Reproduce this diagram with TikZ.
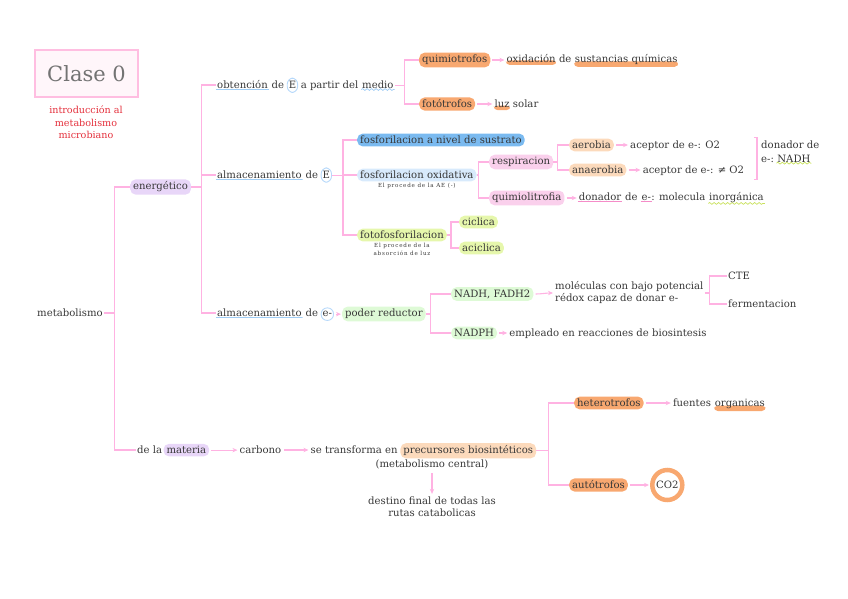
\documentclass[tikz,border=0pt]{standalone}
\usepackage{fontspec}
\setmainfont{DejaVu Serif}
\newfontfamily\notefont[LetterSpace=14]{DejaVu Serif}
\usetikzlibrary{positioning, arrows.meta, decorations.pathmorphing}
\definecolor{ink}{RGB}{55,55,55}
\definecolor{linkpink}{RGB}{255,178,226}
\definecolor{titlepink}{RGB}{255,190,225}
\definecolor{titlefill}{RGB}{255,246,250}
\definecolor{redtxt}{RGB}{228,48,60}
\definecolor{hlorange}{RGB}{248,168,112}
\definecolor{hlpeach}{RGB}{252,218,188}
\definecolor{hllav}{RGB}{232,214,248}
\definecolor{hlblue}{RGB}{122,186,240}
\definecolor{hlsky}{RGB}{216,234,252}
\definecolor{hlpink}{RGB}{250,208,236}
\definecolor{hllime}{RGB}{230,247,172}
\definecolor{hlmint}{RGB}{222,250,214}
\definecolor{ringblue}{RGB}{182,216,250}
\definecolor{ulblue}{RGB}{160,205,245}
\definecolor{ulpink}{RGB}{245,140,200}
\definecolor{ullime}{RGB}{200,225,90}

\begin{document}
\begin{tikzpicture}[
    x=1pt, y=1pt,
    font=\fontsize{10.1}{12}\selectfont, text=ink,
    >={Stealth[length=5pt, width=4.4pt]},
    word/.style={inner xsep=1pt, inner ysep=2pt},
    hl/.style={word, rounded corners=5.5pt, fill=#1, inner xsep=3pt, inner ysep=2.5pt},
    ulhl/.style={word, rounded corners=4pt,
                 path picture={\fill[#1] (path picture bounding box.south west)
                   rectangle ([yshift=-1.5pt]path picture bounding box.east);}},
    ul/.style={word,
               path picture={\draw[#1, line width=0.9pt]
                   ([yshift=1.2pt]path picture bounding box.south west) --
                   ([yshift=1.2pt]path picture bounding box.south east);}},
    wv/.style={word,
               path picture={\draw[#1, line width=0.7pt, decorate,
                   decoration={snake, amplitude=0.9pt, segment length=4.5pt}]
                   ([yshift=1.6pt]path picture bounding box.south west) --
                   ([yshift=1.6pt]path picture bounding box.south east);}},
    ring/.style={draw=ringblue, line width=0.9pt, rounded corners=6pt,
                 inner xsep=1.5pt, inner ysep=3.5pt},
    titlebox/.style={draw=titlepink, fill=titlefill, line width=1.3pt,
                     minimum width=103pt, minimum height=47pt,
                     font=\fontsize{21}{24}\selectfont, text=black!55},
    subtitle/.style={font=\fontsize{9.6}{12.5}\selectfont, text=redtxt, align=center},
    note/.style={font=\notefont\fontsize{5.6}{7.5}\selectfont, align=center, inner sep=0pt},
    link/.style={draw=linkpink, line width=1.1pt},
    arr/.style={->, linkpink, line width=1.1pt, shorten >=1pt, shorten <=2pt},
]
\useasboundingbox (0,0) rectangle (848,-599);

% ══════════════════════════════════════
%  TITLE
% ══════════════════════════════════════

\node[titlebox] (clase) at (86.5,-73.5) {Clase 0};
\node[subtitle] (intro) at (86,-122.5) {introducción al\\metabolismo\\microbiano};

% ══════════════════════════════════════
%  ROOT + FIRST LEVEL
% ══════════════════════════════════════

\node[word, anchor=west] (met) at (36,-313) {metabolismo};
\node[hl=hllav, anchor=west] (ener) at (130,-187) {energético};

\node[word, anchor=west] (matA) at (136,-450) {de la};
\node[hl=hllav, base right=0pt of matA] (matB) {materia};

% ══════════════════════════════════════
%  ENERGETICO
% ══════════════════════════════════════

% obtencion de E
\node[ul=ulblue, anchor=west] (obtA) at (216,-85) {obtención};
\node[word, base right=1.5pt of obtA] (obtB) {de};
\node[ring, base right=1.5pt of obtB] (obtE) {E};
\node[word, base right=1.5pt of obtE] (obtC) {a partir del};
\node[wv=ulblue, base right=1.5pt of obtC] (obtD) {medio};

\node[hl=hlorange, anchor=west] (quimio) at (419,-60) {quimiotrofos};
\node[ulhl=hlorange, base right=15pt of quimio] (oxiA) {oxidación};
\node[word, base right=1pt of oxiA] (oxiB) {de};
\node[ulhl=hlorange, base right=1pt of oxiB] (oxiC) {sustancias químicas};

\node[hl=hlorange, anchor=west] (foto) at (419,-104) {fotótrofos};
\node[ulhl=hlorange, base right=18pt of foto] (luzA) {luz};
\node[word, base right=1pt of luzA] (luzB) {solar};

% almacenamiento de E
\node[ul=ulblue, anchor=west] (almA) at (216,-175) {almacenamiento};
\node[word, base right=1.5pt of almA] (almA2) {de};
\node[ring, base right=1.5pt of almA2] (almE) {E};

\node[hl=hlblue, anchor=west] (sust) at (357,-140) {fosforilacion a nivel de sustrato};
\node[hl=hlsky, anchor=west] (oxid) at (357,-175) {fosforilacion oxidativa};
\node[note, below=1.5pt of oxid] (oxidn) {El procede de la AE (-)};
\node[hl=hllime, anchor=west] (fotof) at (357,-235) {fotofosforilacion};
\node[note, below=1.5pt of fotof] (fotofn) {El procede de la\\absorción de luz};

\node[hl=hlpink, anchor=west] (resp) at (489,-162) {respiracion};
\node[hl=hlpink, anchor=west] (quiml) at (489,-198) {quimiolitrofia};
\node[ul=ulpink, base right=13pt of quiml] (dinA) {donador};
\node[word, base right=1.5pt of dinA] (dinB) {de};
\node[ul=ulpink, base right=1.5pt of dinB] (dinC) {e-};
\node[word, base right=-2pt of dinC] (dinD) {: molecula};
\node[wv=ullime, base right=1.5pt of dinD] (dinE) {inorgánica};

\node[hl=hlpeach, anchor=west] (aero) at (569,-145) {aerobia};
\node[word, base right=15pt of aero] (acep1) {aceptor de e-: O2};
\node[hl=hlpeach, anchor=west] (anae) at (569,-170) {anaerobia};
\node[word, base right=15pt of anae] (acep2) {aceptor de e-: ≠ O2};
\node[word, anchor=west] (donA) at (760,-145) {donador de};
\node[word, anchor=west] (donB) at (760,-160) {e-:};
\node[wv=ullime, base right=1pt of donB] (donC) {NADH};

\node[hl=hllime, anchor=west] (cicl) at (459,-222) {ciclica};
\node[hl=hllime, anchor=west] (acic) at (459,-248) {aciclica};

% almacenamiento de e-
\node[ul=ulblue, anchor=west] (almB) at (216,-313) {almacenamiento};
\node[word, base right=1.5pt of almB] (almB2) {de};
\node[ring, base right=1.5pt of almB2] (alme) {e-};
\node[hl=hlmint, base right=8pt of alme] (poder) {poder reductor};

\node[hl=hlmint, anchor=west] (nadh) at (451,-294) {NADH, FADH2};
\node[word, anchor=west, align=left] (mol) at (554,-293)
    {moléculas con bajo potencial\\rédox capaz de donar e-};
\node[word, anchor=west] (cte) at (727,-276) {CTE};
\node[word, anchor=west] (ferm) at (727,-304) {fermentacion};

\node[hl=hlmint, anchor=west] (nadph) at (451,-333) {NADPH};
\node[word, base right=11pt of nadph] (empl) {empleado en reacciones de biosintesis};

% ══════════════════════════════════════
%  DE LA MATERIA
% ══════════════════════════════════════

\node[word, base right=29pt of matB] (carb) {carbono};
\node[word, base right=27pt of carb] (transA) {se transforma en};
\node[hl=hlpeach, base right=1.5pt of transA] (transB) {precursores biosintéticos};
\node[word] (metc) at (432,-464) {(metabolismo central)};
\node[word, align=center] (dest) at (432,-507) {destino final de todas las\\rutas catabolicas};

\node[hl=hlorange, anchor=west] (het) at (574,-403) {heterotrofos};
\node[word, base right=28pt of het] (fuenA) {fuentes};
\node[ulhl=hlorange, base right=1.5pt of fuenA] (fuenB) {organicas};

\node[hl=hlorange, anchor=west] (auto) at (569,-485) {autótrofos};
\node[circle, draw=hlorange, line width=4.5pt, minimum size=30pt, inner sep=0pt,
      right=22pt of auto] (co2) {CO2};

% ══════════════════════════════════════
%  LINKS
% ══════════════════════════════════════

\draw[link] (met.east) -- ++(11,0) coordinate (j0) |- (ener.west);
\draw[link] (j0) |- (matA.west);

\draw[link] (ener.east) -- ++(10,0) coordinate (j1) |- (obtA.west);
\draw[link] (j1) |- (almA.west);
\draw[link] (j1) |- (almB.west);

\draw[link] (obtD.east) -- ++(10,0) coordinate (j2) |- (quimio.west);
\draw[link] (j2) |- (foto.west);

\draw[link] (almE.east) -- ++(11,0) coordinate (j3) |- (sust.west);
\draw[link] (j3) |- (oxid.west);
\draw[link] (j3) |- (fotof.west);

\draw[link] (oxid.east) -- ++(2,0) coordinate (j4) |- (resp.west);
\draw[link] (j4) |- (quiml.west);

\draw[link] (resp.east) -- ++(4,0) coordinate (j5) |- (aero.west);
\draw[link] (j5) |- (anae.west);

\draw[link] (fotof.east) -- ++(4,0) coordinate (j6) |- (cicl.west);
\draw[link] (j6) |- (acic.west);

\draw[link] (poder.east) -- ++(5,0) coordinate (j7) |- (nadh.west);
\draw[link] (j7) |- (nadph.west);

\draw[link] (mol.east) -- ++(5,0) coordinate (j8) |- (cte.west);
\draw[link] (j8) |- (ferm.west);

\draw[link] (transB.east) -- ++(12,0) coordinate (j9) |- (het.west);
\draw[link] (j9) |- (auto.west);

% bracket before donador
\draw[link] ([xshift=-6pt, yshift=1pt]donA.west |- acep1.north) -- ++(3,0)
    |- ([xshift=-6pt, yshift=-1pt]donA.west |- acep2.south);

% ══════════════════════════════════════
%  ARROWS
% ══════════════════════════════════════

\draw[arr] (quimio.east) -- (quimio.east -| oxiA.west);
\draw[arr] (foto.east) -- (foto.east -| luzA.west);
\draw[arr] (aero.east) -- (aero.east -| acep1.west);
\draw[arr] (anae.east) -- (anae.east -| acep2.west);
\draw[arr] (quiml.east) -- (quiml.east -| dinA.west);
\draw[arr] (alme.east) -- (alme.east -| poder.west);
\draw[arr] (nadh.east) to[out=0, in=180] (mol.west);
\draw[arr] (nadph.east) -- (nadph.east -| empl.west);
\draw[arr] (matB.east) -- (matB.east -| carb.west);
\draw[arr] (carb.east) -- (carb.east -| transA.west);
\draw[arr] (metc.south) -- (dest.north);
\draw[arr] (het.east) -- (het.east -| fuenA.west);
\draw[arr] (auto.east) -- (co2.west);

\end{tikzpicture}
\end{document}
